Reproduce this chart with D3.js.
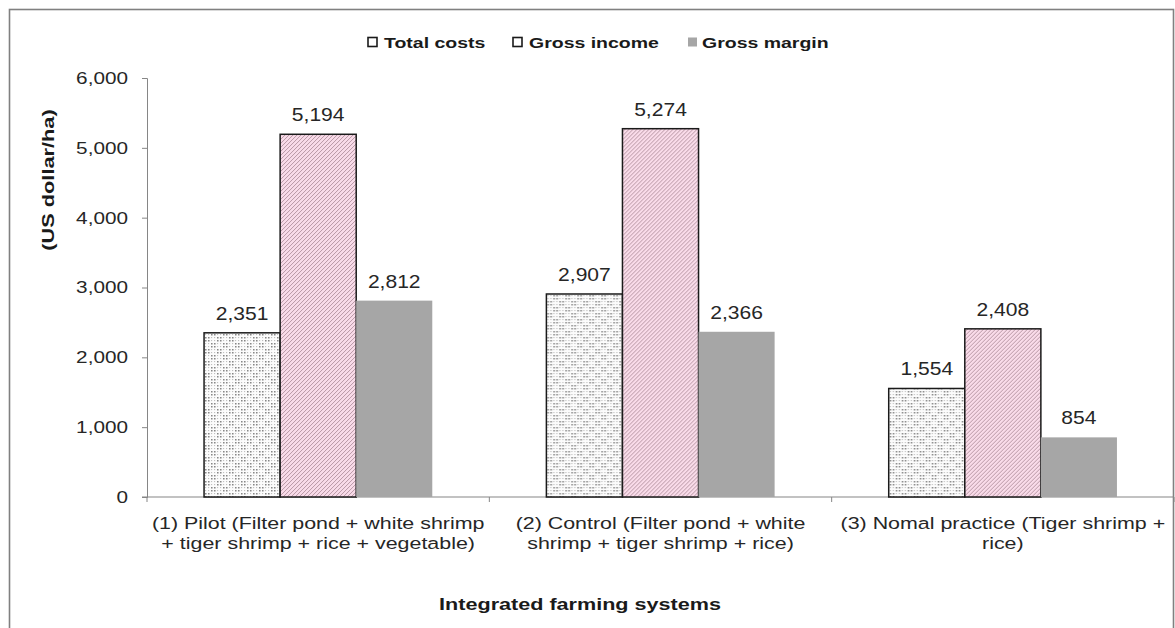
<!DOCTYPE html>
<html>
<head>
<meta charset="utf-8">
<script src="https://cdn.jsdelivr.net/npm/d3@7"></script>
<style>
  html, body { margin: 0; padding: 0; background: #fff; }
  svg { display: block; font-family: "Liberation Sans", Arial, sans-serif; }
</style>
</head>
<body>
<svg id="chart" width="1175" height="628"></svg>
<script>
// Farming systems compared
const categories = [
  ["(1) Pilot (Filter pond + white shrimp", "+ tiger shrimp + rice + vegetable)"],
  ["(2) Control (Filter pond + white", "shrimp + tiger shrimp + rice)"],
  ["(3) Nomal practice (Tiger shrimp +", "rice)"]
];
const seriesNames = ["Total costs", "Gross income", "Gross margin"];
const totalCosts = [2351, 2907, 1554];
const grossIncome = [5194, 5274, 2408];
const grossMargin = [2812, 2366, 854];
const yTicks = [0, 1000, 2000, 3000, 4000, 5000, 6000];

const seriesValues = [totalCosts, grossIncome, grossMargin];

const svg = d3.select("#chart");
const plot = { left: 147, right: 1174, top: 78, bottom: 497 };
const WIDE = 1.22;   // horizontal widening of all lettering
const INK = "#262626";

// Fill patterns
const defs = svg.append("defs");

// halftone-like dotted fill for total costs
const dots = defs.append("pattern")
  .attr("id", "pat-dots").attr("patternUnits", "userSpaceOnUse")
  .attr("width", 12).attr("height", 12);
dots.append("rect").attr("width", 12).attr("height", 12).attr("fill", "#fcfcfc");
for (let i = 0; i < 4; i++) {
  for (let j = 0; j < 4; j++) {
    const dark = ((i < 2) === (j < 2));
    dots.append("rect")
      .attr("x", i * 3 + 1).attr("y", j * 3 + 1)
      .attr("width", dark ? 1.5 : 1.1).attr("height", dark ? 1.5 : 1.1)
      .attr("fill", dark ? "#808080" : "#bdbdbd");
  }
}

// pink diagonal hatch for gross income
const hatch = defs.append("pattern")
  .attr("id", "pat-hatch").attr("patternUnits", "userSpaceOnUse")
  .attr("width", 4).attr("height", 4);
hatch.append("rect").attr("width", 4).attr("height", 4).attr("fill", "#f9dbe9");
hatch.append("path").attr("d", "M-1,1 l2,-2 M0,4 l4,-4 M3,5 l2,-2")
  .attr("stroke", "#a3828f").attr("stroke-width", 0.75);

const fills = ["url(#pat-dots)", "url(#pat-hatch)", "#a6a6a6"];
const strokes = ["#1a1a1a", "#1a1a1a", "none"];

// outer frame
svg.append("rect")
  .attr("x", 9.5).attr("y", 9.5)
  .attr("width", 1164).attr("height", 640)
  .attr("fill", "none").attr("stroke", "#808080").attr("stroke-width", 1.6);

// scales
const x0 = d3.scaleBand()
  .domain(d3.range(categories.length))
  .range([plot.left, plot.right])
  .paddingInner(1 / 3).paddingOuter(1 / 6);
const x1 = d3.scaleBand()
  .domain(d3.range(seriesNames.length))
  .range([0, x0.bandwidth()]);
const y = d3.scaleLinear().domain([0, 6000]).range([plot.bottom, plot.top]);

const fmt = d3.format(",");

// widened text placed at (x, y)
function wideText(parent, x, yPos, str, opts = {}) {
  const t = parent.append("text")
    .attr("transform", `translate(${x},${yPos})${opts.rotate ? ` rotate(${opts.rotate})` : ""} scale(${opts.sx || WIDE},1)`)
    .attr("text-anchor", opts.anchor || "middle")
    .attr("font-size", opts.size || 17)
    .attr("font-weight", opts.bold ? "bold" : null)
    .attr("fill", opts.fill || INK)
    .text(str);
  return t;
}

// y axis
const yAxis = svg.append("g")
  .attr("transform", `translate(${plot.left},0)`)
  .call(d3.axisLeft(y).tickValues(yTicks).tickFormat(fmt).tickSize(5).tickPadding(14));
yAxis.select(".domain").attr("stroke", "#868686");
yAxis.selectAll(".tick line").attr("stroke", "#868686");
yAxis.selectAll(".tick text")
  .attr("font-size", 17).attr("fill", INK)
  .attr("font-family", "Liberation Sans, Arial, sans-serif")
  .attr("transform", function () {
    const tx = +d3.select(this).attr("x");
    d3.select(this).attr("x", 0);
    return `translate(${tx},0) scale(${WIDE},1)`;
  });

// x axis line and boundary ticks
const boundaries = d3.range(categories.length + 1).map(i =>
  i === 0 ? plot.left : (i === categories.length ? plot.right : x0(i) - x0.step() * x0.paddingInner() / 2));
svg.append("line")
  .attr("x1", plot.left - 5).attr("x2", plot.right)
  .attr("y1", y(0)).attr("y2", y(0))
  .attr("stroke", "#868686").attr("stroke-width", 1.2);
svg.selectAll(".xtick").data(boundaries).join("line")
  .attr("class", "xtick")
  .attr("x1", d => d).attr("x2", d => d)
  .attr("y1", y(0)).attr("y2", y(0) + 5)
  .attr("stroke", "#868686");

// bars with value labels
const groups = svg.selectAll(".grp").data(categories).join("g")
  .attr("class", "grp")
  .attr("transform", (d, i) => `translate(${x0(i)},0)`);

groups.each(function (d, ci) {
  const g = d3.select(this);
  seriesValues.forEach((vals, si) => {
    const v = vals[ci];
    g.append("rect")
      .attr("x", x1(si)).attr("width", x1.bandwidth())
      .attr("y", y(v)).attr("height", y(0) - y(v))
      .attr("fill", fills[si])
      .attr("stroke", strokes[si]).attr("stroke-width", 1.5);
    wideText(g, x1(si) + x1.bandwidth() / 2, y(v) - 13, fmt(v), { size: 18, sx: 1.17 });
  });
});

// category labels
categories.forEach((lines, i) => {
  lines.forEach((line, k) => {
    wideText(svg, x0(i) + x0.bandwidth() / 2, 529 + k * 20, line, { size: 17, sx: 1.26 });
  });
});

// axis titles
wideText(svg, 580, 610, "Integrated farming systems", { size: 17, bold: true, fill: "#1a1a1a", sx: 1.27 });
wideText(svg, 54, 180, "(US dollar/ha)", { size: 17, bold: true, fill: "#1a1a1a", rotate: -90, sx: 1.28 });

// legend
const legendX = [368, 513, 688];
const legend = svg.selectAll(".leg").data(seriesNames).join("g")
  .attr("class", "leg")
  .attr("transform", (d, i) => `translate(${legendX[i]},42)`);
legend.append("rect")
  .attr("x", 0).attr("y", -4.5).attr("width", 9).attr("height", 9)
  .attr("fill", (d, i) => i === 2 ? "#a6a6a6" : "#fff")
  .attr("stroke", (d, i) => i === 2 ? "none" : "#1a1a1a")
  .attr("stroke-width", 1.6);
legend.each(function (d, i) {
  wideText(d3.select(this), i === 2 ? 14 : 16, 5.5, d,
    { size: 15, bold: true, fill: "#1a1a1a", anchor: "start", sx: 1.3 });
});
</script>
</body>
</html>
